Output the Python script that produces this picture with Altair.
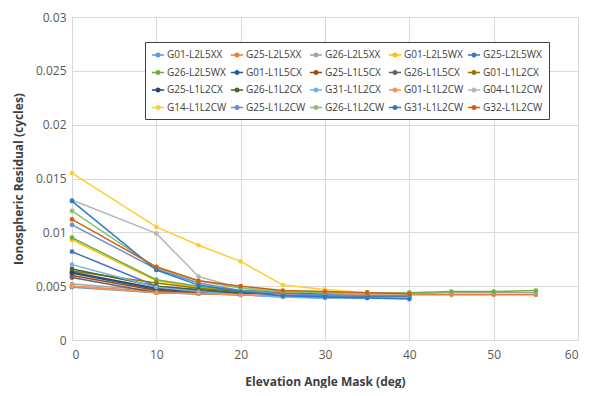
import altair as alt
import pandas as pd

ELEV = [0, 10, 15, 20, 25, 30, 35, 40, 45, 50, 55]

NAMES = ["G01-L2L5XX", "G25-L2L5XX", "G26-L2L5XX", "G01-L2L5WX", "G25-L2L5WX",
         "G26-L2L5WX", "G01-L1L5CX", "G25-L1L5CX", "G26-L1L5CX", "G01-L1L2CX",
         "G25-L1L2CX", "G26-L1L2CX", "G31-L1L2CX", "G01-L1L2CW", "G04-L1L2CW",
         "G14-L1L2CW", "G25-L1L2CW", "G26-L1L2CW", "G31-L1L2CW", "G32-L1L2CW"]

COLORS = ["#5B9BD5", "#ED7D31", "#A5A5A5", "#FFC000", "#4472C4",
          "#70AD47", "#255E91", "#9E480E", "#636363", "#997300",
          "#264478", "#43682B", "#7CAFDD", "#F1975A", "#B7B7B7",
          "#FFCD33", "#698ED0", "#8CC168", "#2C7BC7", "#D0600F"]

G01_L2L5XX = [0.0049, 0.0044, 0.0043, 0.0042, 0.0040, 0.0039, 0.0039, 0.0039]
G25_L2L5XX = [0.0050, 0.0045, 0.0044, 0.0043, 0.0042, 0.0042, 0.0042, 0.0042, 0.0042, 0.0042, 0.0042]
G26_L2L5XX = [0.0052, 0.0046, 0.0044, 0.0043, 0.0043, 0.0043, 0.0043, 0.0043, 0.0044, 0.0044, 0.0044]
G01_L2L5WX = [0.0093, 0.0055, 0.0049, 0.0045, 0.0044, 0.0044, 0.0044, 0.0043]
G25_L2L5WX = [0.0082, 0.0050, 0.0046, 0.0043, 0.0042, 0.0041, 0.0041, 0.0041]
G26_L2L5WX = [0.0095, 0.0056, 0.0050, 0.0046, 0.0045, 0.0044, 0.0044, 0.0044, 0.0045, 0.0045, 0.0046]
G01_L1L5CX = [0.0062, 0.0047, 0.0045, 0.0043, 0.0042, 0.0041, 0.0041, 0.0041]
G25_L1L5CX = [0.0060, 0.0046, 0.0044, 0.0043, 0.0042, 0.0042, 0.0042, 0.0042]
G26_L1L5CX = [0.0058, 0.0044, 0.0043, 0.0042, 0.0042, 0.0042, 0.0042, 0.0042]
G01_L1L2CX = [0.0064, 0.0053, 0.0048, 0.0045, 0.0044, 0.0043, 0.0043, 0.0043]
G25_L1L2CX = [0.0063, 0.0048, 0.0045, 0.0043, 0.0042, 0.0042, 0.0041, 0.0041]
G26_L1L2CX = [0.0066, 0.0050, 0.0047, 0.0044, 0.0043, 0.0043, 0.0043, 0.0043]
G31_L1L2CX = [0.0070, 0.0049, 0.0045, 0.0042, 0.0040, 0.0039, 0.0039, 0.0039]
G01_L1L2CW = [0.0050, 0.0044, 0.0043, 0.0042, 0.0042, 0.0042, 0.0042, 0.0042]
G04_L1L2CW = [0.0130, 0.0099, 0.0059, 0.0048, 0.0045, 0.0044, 0.0043, 0.0043]
G14_L1L2CW = [0.0155, 0.0105, 0.0088, 0.0073, 0.0051, 0.0047, 0.0044, 0.0043]
G25_L1L2CW = [0.0107, 0.0066, 0.0053, 0.0046, 0.0043, 0.0042, 0.0041, 0.0041]
G26_L1L2CW = [0.0120, 0.0067, 0.0055, 0.0048, 0.0045, 0.0044, 0.0044, 0.0044]
G31_L1L2CW = [0.0129, 0.0065, 0.0051, 0.0045, 0.0041, 0.0040, 0.0039, 0.0038]
G32_L1L2CW = [0.0112, 0.0068, 0.0055, 0.0050, 0.0046, 0.0045, 0.0044, 0.0043]

SERIES = [G01_L2L5XX, G25_L2L5XX, G26_L2L5XX, G01_L2L5WX, G25_L2L5WX,
          G26_L2L5WX, G01_L1L5CX, G25_L1L5CX, G26_L1L5CX, G01_L1L2CX,
          G25_L1L2CX, G26_L1L2CX, G31_L1L2CX, G01_L1L2CW, G04_L1L2CW,
          G14_L1L2CW, G25_L1L2CW, G26_L1L2CW, G31_L1L2CW, G32_L1L2CW]

rows = []
for i, (name, vals) in enumerate(zip(NAMES, SERIES)):
    for x, v in zip(ELEV, vals):
        rows.append({"series": name, "order": i, "elev": x, "resid": v})
df = pd.DataFrame(rows)

# legend grid is filled column by column: reorder so it reads row by row
NCOL, NROW = 5, 4
leg_idx = [r * NCOL + c for c in range(NCOL) for r in range(NROW)]
LEG_DOMAIN = [NAMES[k] for k in leg_idx]
LEG_RANGE = [COLORS[k] for k in leg_idx]

FONT = "Open Sans"
LEG_SYMBOL = "M-1,0H1M0.3,0A0.3,0.3 0 1,1 -0.3,0A0.3,0.3 0 1,1 0.3,0Z"

base = alt.Chart(df).encode(
    x=alt.X("elev:Q", title="Elevation Angle Mask (deg)",
            scale=alt.Scale(domain=[0, 60], nice=False),
            axis=alt.Axis(values=[0, 10, 20, 30, 40, 50, 60], grid=True)),
    y=alt.Y("resid:Q", title="Ionospheric Residual (cycles)",
            scale=alt.Scale(domain=[0, 0.03], nice=False),
            axis=alt.Axis(values=[0, 0.005, 0.01, 0.015, 0.02, 0.025, 0.03],
                          format=".3~f", grid=True)),
    color=alt.Color("series:N", sort=LEG_DOMAIN,
                    scale=alt.Scale(domain=LEG_DOMAIN, range=LEG_RANGE),
                    legend=alt.Legend(title=None, orient="none", legendX=73, legendY=25,
                                      columns=NCOL, symbolType=LEG_SYMBOL,
                                      symbolSize=150, symbolStrokeWidth=1.5,
                                      labelFont=FONT, labelFontSize=10,
                                      labelColor="#404040", columnPadding=0,
                                      rowPadding=5.5, padding=6, labelOffset=2,
                                      strokeColor="#404040", fillColor="white",
                                      labelLimit=200)),
    order=alt.Order("order:Q"),
    detail="series:N",
)

lines = base.mark_line(strokeWidth=1.5)
points = base.mark_circle(size=22, opacity=1)

chart = alt.layer(lines, points).properties(
    width=506, height=323,
    autosize=alt.AutoSizeParams(type="none"),
    padding={"left": 64, "top": 9, "right": 14, "bottom": 48},
).configure_view(stroke=None).configure_axis(
    labelFont=FONT, labelFontSize=12, labelColor="#595959",
    titleFont=FONT, titleFontSize=12, titleColor="#404040", titleFontWeight="bold",
    gridColor="#D9D9D9", domainColor="#D9D9D9", ticks=False, labelPadding=6,
).configure_axisX(titlePadding=16, labelPadding=9).configure_axisY(titlePadding=10)

chart.save("out.html", embed_options={"renderer": "svg", "actions": False})
